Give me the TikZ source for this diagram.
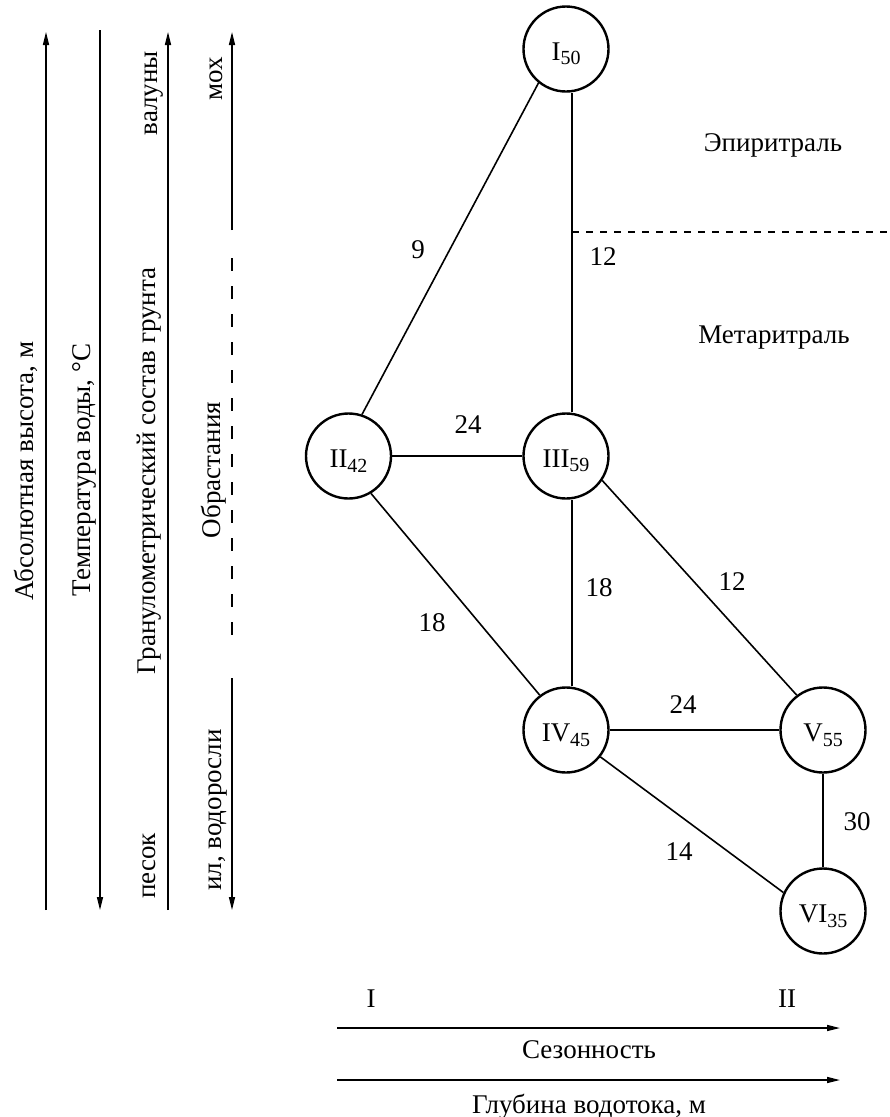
\documentclass[tikz,border=0pt]{standalone}
\usepackage{fontspec}
\setmainfont{Liberation Serif}
\usetikzlibrary{arrows.meta}
\newcommand{\nsub}[1]{\raisebox{-4.5pt}{\fontsize{20}{20}\selectfont #1}}
\begin{document}
\begin{tikzpicture}[x=1pt,y=-1pt,
  every node/.style={font=\fontsize{27}{30}\selectfont, inner sep=0pt},
  circ/.style={circle, draw, line width=2.4pt, minimum size=85pt, inner sep=0pt},
  edge/.style={line width=1.6pt},
  axis/.style={line width=1.4pt},
  tip/.style={-{Triangle[length=13pt,width=6pt]}},
  vlabel/.style={rotate=90, anchor=base},
  zone/.style={anchor=base},
  dashaxis/.style={axis, dash pattern=on 13pt off 15pt},
  border/.style={line width=1.4pt, dash pattern=on 7pt off 7pt},
]
\useasboundingbox (0,0) rectangle (890,1117);

% --- graph nodes ---
\node[circ, label={[yshift=-5pt]center:I\nsub{50}}] (I) at (566,49) {};
\node[circ, label={[yshift=-5pt]center:II\nsub{42}}] (II) at (348.5,456) {};
\node[circ, label={[yshift=-5pt]center:III\nsub{59}}] (III) at (566,456) {};
\node[circ, label={[yshift=-5pt]center:IV\nsub{45}}] (IV) at (566,730) {};
\node[circ, label={[yshift=-5pt]center:V\nsub{55}}] (V) at (823,730) {};
\node[circ, label={[yshift=-5pt]center:VI\nsub{35}}] (VI) at (823,911) {};

% --- edges ---
\draw[edge] (I.-129) -- (II.72.6);
\draw[edge] ([xshift=6pt]I.south) -- ([xshift=6pt]III.north);
\draw[edge] (II) -- (III);
\draw[edge] (II.-59.5) -- (IV.127);
\draw[edge] ([xshift=6pt]III.south) -- ([xshift=6pt]IV.north);
\draw[edge] (III.-34) -- (V.127);
\draw[edge] (IV) -- (V);
\draw[edge] (IV.-38) -- (VI.155);
\draw[edge] (V) -- (VI);

% --- edge labels ---
\node (w1) at (418,250) {9};
\node (w2) at (603,257) {12};
\node (w3) at (468,425) {24};
\node (w4) at (432,623) {18};
\node (w5) at (599,588) {18};
\node (w6) at (732,582) {12};
\node (w7) at (683,705) {24};
\node (w8) at (679,852) {14};
\node (w9) at (857,822) {30};

% --- zone border ---
\coordinate (b0) at (572,232);
\coordinate (b1) at (890,232);
\draw[border] (b0) -- (b1);
\node[zone] (epi) at (773,151) {Эпиритраль};
\node[zone] (meta) at (774,343) {Метаритраль};

% --- left axes ---
\coordinate (a1b) at (46,910); \coordinate (a1t) at (46,32);
\draw[axis, tip] (a1b) -- (a1t);
\node[vlabel] (l1) at (33,471) {Абсолютная высота, м};

\coordinate (a2t) at (100,30); \coordinate (a2b) at (100,910);
\draw[axis, tip] (a2t) -- (a2b);
\node[vlabel] (l2) at (90,470) {Температура воды, °C};

\coordinate (a3b) at (168,910); \coordinate (a3t) at (168,32);
\draw[axis, tip] (a3b) -- (a3t);
\node[vlabel] (l3) at (155,471) {Гранулометрический состав грунта};
\node[vlabel] (l3a) at (157,93) {валуны};
\node[vlabel] (l3b) at (155,866) {песок};

\coordinate (a4a) at (232,230); \coordinate (a4t) at (232,32);
\coordinate (a4c) at (232,258); \coordinate (a4d) at (232,648);
\coordinate (a4e) at (232,678); \coordinate (a4b) at (232,910);
\draw[axis, tip] (a4a) -- (a4t);
\draw[dashaxis] (a4c) -- (a4d);
\draw[axis, tip] (a4e) -- (a4b);
\node[vlabel] (l4a) at (222,79) {мох};
\node[vlabel] (l4) at (220,470) {Обрастания};
\node[vlabel] (l4b) at (221,810) {ил, водоросли};

% --- bottom axes ---
\node (sI) at (371,999) {I};
\node (sII) at (787,999) {II};
\coordinate (s0) at (337,1028); \coordinate (s1) at (840,1028);
\draw[axis, tip] (s0) -- (s1);
\node[zone] (sez) at (589,1058) {Сезонность};
\coordinate (g0) at (337,1080); \coordinate (g1) at (840,1080);
\draw[axis, tip] (g0) -- (g1);
\node[zone] (glub) at (589,1113) {Глубина водотока, м};
\end{tikzpicture}
\end{document}
